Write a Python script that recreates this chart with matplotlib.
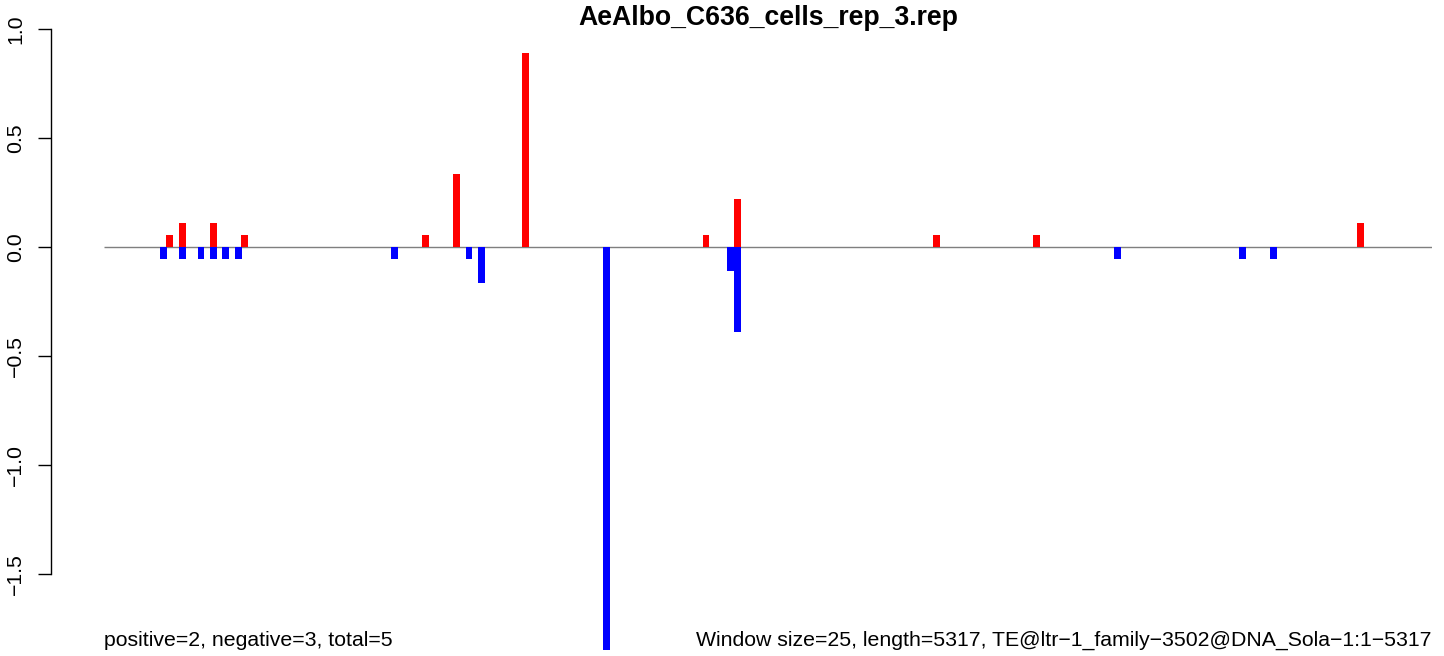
import numpy as np
import matplotlib
matplotlib.use("Agg")
from matplotlib import pyplot as plt

plt.rcParams['font.family'] = ['Liberation Sans', 'DejaVu Sans']

title = "AeAlbo_C636_cells_rep_3.rep"
n_windows = 213

# window index -> score (positive strand in red, negative in blue)
pos_idx = [10, 12, 17, 22, 51, 56, 67, 96, 101, 133, 149, 201]
pos_val = [0.056, 0.111, 0.111, 0.056, 0.056, 0.333, 0.889, 0.056, 0.222, 0.056, 0.056, 0.111]
neg_idx = [9, 12, 15, 17, 19, 21, 46, 58, 60, 80, 100, 101, 162, 182, 187]
neg_val = [-0.056, -0.056, -0.056, -0.056, -0.056, -0.056, -0.056, -0.056, -0.167,
           -1.85, -0.111, -0.389, -0.056, -0.056, -0.056]

yticks = [-1.5, -1.0, -0.5, 0.0, 0.5, 1.0]
left_note = "positive=2, negative=3, total=5"
right_note = "Window size=25, length=5317, TE@ltr\u22121_family\u22123502@DNA_Sola\u22121:1\u22125317"

W, H = 1444, 656
fig = plt.figure(figsize=(W / 100, H / 100), dpi=100)

ax_l, ax_r = 50.7, 1432
ax_t, ax_b = 29, 574
ax = fig.add_axes([ax_l / W, (H - ax_b) / H, (ax_r - ax_l) / W, (ax_b - ax_t) / H])
px = (1432 - 104) / n_windows
ax.set_xlim(-(104 - ax_l) / px, n_windows)
ax.set_ylim(-1.5, 1.0)

ax.hlines(0, 0, n_windows, color='#7f7f7f', lw=1.0, zorder=1)
ax.bar(neg_idx, neg_val, width=1.1, align='edge', color='blue', clip_on=False, zorder=2)
ax.bar(pos_idx, pos_val, width=1.1, align='edge', color='red', clip_on=False, zorder=3)

for s in ['top', 'right', 'bottom']:
    ax.spines[s].set_visible(False)
ax.spines['left'].set_bounds(-1.5, 1.0)
ax.spines['left'].set_linewidth(1.0)
ax.set_yticks(yticks)
ax.set_yticklabels(["%.1f" % v if v >= 0 else "\u2212%.1f" % -v for v in yticks],
                   rotation=90, va='center', fontsize=15.3)
ax.tick_params(axis='y', length=9.5, width=1.0, pad=9)
ax.set_xticks([])

fig.text(768 / W, 1 - 18 / H, title, ha='center', va='center', fontsize=19.2, fontweight='bold')
fig.text(104 / W, 1 - 640 / H, left_note, ha='left', va='center', fontsize=15.3)
fig.text(1432 / W, 1 - 640 / H, right_note, ha='right', va='center', fontsize=15.3)

fig.savefig("out.png", dpi=100)
